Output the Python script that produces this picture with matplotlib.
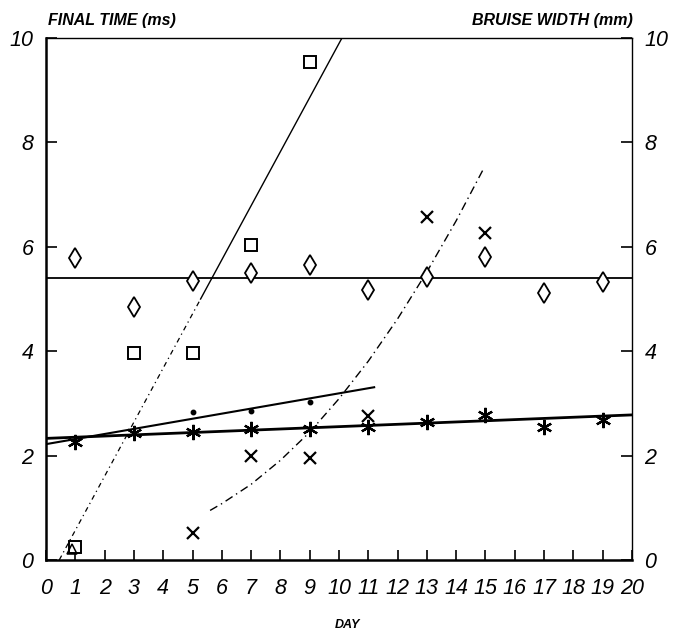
import numpy as np
import matplotlib
matplotlib.use("Agg")
import matplotlib.pyplot as plt

# ---- data ----
days = [1, 3, 5, 7, 9, 11, 13, 15, 17, 19]
diamond_vals = [5.79, 4.85, 5.34, 5.50, 5.65, 5.17, 5.42, 5.80, 5.11, 5.33]
star_vals = [2.27, 2.43, 2.45, 2.51, 2.51, 2.55, 2.65, 2.78, 2.55, 2.68]

square_days = [1, 3, 5, 7, 9]
square_vals = [0.25, 3.97, 3.97, 6.03, 9.55]

x_days = [5, 7, 9, 11, 13, 15]
x_vals = [0.52, 1.99, 1.95, 2.75, 6.57, 6.26]

dot_days = [5, 7, 9]
dot_vals = [2.84, 2.85, 3.03]

tri_days = [0.9]
tri_vals = [0.22]

# trend lines (end points / curve points)
diamond_line_x = [0, 20]
diamond_line_y = [5.40, 5.40]
star_line_x = [0, 20]
star_line_y = [2.33, 2.78]
dot_line_x = [0, 11.2]
dot_line_y = [2.22, 3.31]
square_line_x = [0.45, 10.1]
square_line_y = [0.0, 10.0]
x_curve_x = [5.6, 6, 7, 8, 9, 10, 11, 12, 13, 14, 14.9]
x_curve_y = [0.95, 1.08, 1.45, 1.91, 2.45, 3.09, 3.81, 4.62, 5.52, 6.50, 7.46]

xticks = list(range(0, 21))
yticks = [0, 2, 4, 6, 8, 10]

# ---- figure ----
plt.rcParams['font.family'] = ['Liberation Sans', 'DejaVu Sans']
fig = plt.figure(figsize=(6.77, 6.39), dpi=100)
ax = fig.add_axes([0.068, 0.1236, 0.8655, 0.8169])
ax.set_xlim(0, 20)
ax.set_ylim(0, 10)

k = 'black'
ax.plot(diamond_line_x, diamond_line_y, color=k, lw=1.3)
ax.plot(star_line_x, star_line_y, color=k, lw=2.0)
ax.plot(dot_line_x, dot_line_y, color=k, lw=1.5)

# square regression line: faint lower part, solid upper part
brk_y = 5.0
brk_x = float(np.interp(brk_y, square_line_y, square_line_x))
ax.plot([square_line_x[0], brk_x], [square_line_y[0], brk_y], color=k, lw=0.9,
        linestyle=(0, (4, 3, 1, 3)))
ax.plot([brk_x, square_line_x[1]], [brk_y, square_line_y[1]], color=k, lw=1.0)

ax.plot(x_curve_x, x_curve_y, color=k, lw=1.0, linestyle=(0, (6, 3, 1, 3)))

# markers
ax.plot(days, diamond_vals, linestyle='none', marker='d', markersize=10,
        markerfacecolor='white', markeredgecolor=k, markeredgewidth=1.3)
ax.plot(square_days, square_vals, linestyle='none', marker='s', markersize=8,
        markerfacecolor='white', markeredgecolor=k, markeredgewidth=1.4)
ax.plot(x_days, x_vals, linestyle='none', marker='x', markersize=9,
        color=k, markeredgewidth=1.6)
ax.plot(days, star_vals, linestyle='none', marker=(6, 2, 0), markersize=11,
        color=k, markeredgewidth=1.6)
ax.plot(dot_days, dot_vals, linestyle='none', marker='o', markersize=3.2,
        color=k)
ax.plot(tri_days, tri_vals, linestyle='none', marker='^', markersize=7,
        markerfacecolor='none', markeredgecolor=k, markeredgewidth=1.1)

# spines
ax.spines['left'].set_linewidth(1.8)
ax.spines['bottom'].set_linewidth(1.8)
ax.spines['top'].set_linewidth(1.0)
ax.spines['right'].set_linewidth(1.0)

# ticks
ax.set_xticks(xticks)
ax.set_xticklabels([str(t) for t in xticks], fontstyle='italic', fontsize=15.5)
ax.set_yticks(yticks)
ax.set_yticklabels([str(t) for t in yticks], fontstyle='italic', fontsize=15.5)
ax.tick_params(axis='x', direction='in', length=7, width=1.2, pad=13,
               top=False, bottom=True)
ax.tick_params(axis='y', direction='in', length=8, width=1.2, pad=9,
               left=True, right=True, labelleft=True, labelright=True)

fig.text(48 / 677, 1 - 20 / 639, 'FINAL TIME (ms)', fontsize=11.5,
         fontstyle='italic', fontweight='bold', ha='left', va='center')
fig.text(633 / 677, 1 - 20 / 639, 'BRUISE WIDTH (mm)', fontsize=11.5,
         fontstyle='italic', fontweight='bold', ha='right', va='center')
fig.text(348 / 677, 1 - 625 / 639, 'DAY', fontsize=9,
         fontstyle='italic', fontweight='bold', ha='center', va='center')

fig.savefig('out.png', dpi=100, facecolor='white')
